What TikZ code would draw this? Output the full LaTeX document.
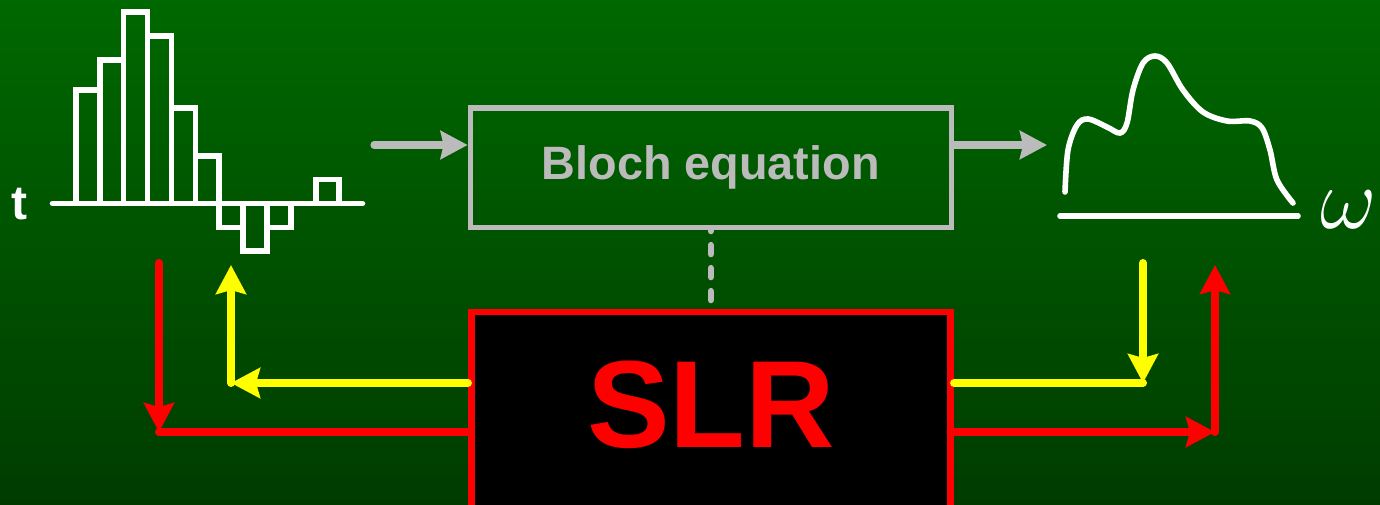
\documentclass[tikz,border=0pt]{standalone}
\usepackage{fontspec}
\setmainfont{Liberation Sans}
\usetikzlibrary{arrows.meta}
\definecolor{bgtop}{RGB}{0,104,0}
\definecolor{bgbot}{RGB}{0,60,0}
\definecolor{wire}{RGB}{187,187,187}
\definecolor{sigred}{RGB}{255,0,0}
\definecolor{sigyel}{RGB}{255,255,0}
\begin{document}
\begin{tikzpicture}[x=0.5pt,y=-0.5pt,
  pulse/.style={draw=white, line width=2.8pt, line join=miter},
  axisline/.style={white, line width=2.8pt, line cap=round},
  flow/.style={wire, line width=3.6pt, line cap=round,
    -{Stealth[length=13.5pt,width=14pt,inset=1.5pt]}},
  loopline/.style={line width=4pt, line cap=round},
  tip/.style={-{Stealth[length=14.5pt,width=15pt,inset=2pt]}},
  blochbox/.style={draw=wire, line width=2.6pt, minimum width=240.5pt,
    minimum height=59.75pt, inner sep=0pt, text=wire,
    font=\bfseries\fontsize{23.4}{24}\selectfont},
  slrbox/.style={draw=sigred, fill=black, line width=3.3pt,
    minimum width=239.75pt, minimum height=109pt, inner sep=0pt},
  slrlabel/.style={text=sigred, inner sep=0pt, anchor=base,
    font=\bfseries\fontsize{62}{62}\selectfont},
  axislabel/.style={text=white, inner sep=0pt, anchor=base,
    font=\bfseries\fontsize{24}{24}\selectfont},
  freqlabel/.style={text=white, inner sep=0pt, scale=1.75, font=\Huge}
]
\useasboundingbox (0,0) rectangle (1380,504);
\clip (0,0) rectangle (1380,504);
\shade[top color=bgtop, bottom color=bgbot] (0,0) rectangle (1380,504);

% ---- RF pulse (time domain) ----
\draw[pulse] (75.8,203.5) -- (75.8,90) -- (99.7,90) -- (99.7,203.5);
\draw[pulse] (99.7,203.5) -- (99.7,60) -- (123.6,60) -- (123.6,203.5);
\draw[pulse] (123.6,203.5) -- (123.6,11.7) -- (147.5,11.7) -- (147.5,203.5);
\draw[pulse] (147.5,203.5) -- (147.5,36) -- (171.4,36) -- (171.4,203.5);
\draw[pulse] (171.4,203.5) -- (171.4,108) -- (195.3,108) -- (195.3,203.5);
\draw[pulse] (195.3,203.5) -- (195.3,156) -- (219.2,156) -- (219.2,203.5);
\draw[pulse] (219.2,203.5) -- (219.2,227.5) -- (243.1,227.5) -- (243.1,203.5);
\draw[pulse] (243.1,203.5) -- (243.1,251) -- (267.0,251) -- (267.0,203.5);
\draw[pulse] (267.0,203.5) -- (267.0,227.5) -- (290.9,227.5) -- (290.9,203.5);
\draw[pulse] (315.8,203.5) -- (315.8,179.5) -- (339.2,179.5) -- (339.2,203.5);
\draw[axisline] (52.5,203.5) -- (362.5,203.5);
\node[axislabel] (tlab) at (19.5,219) {t};

% ---- Frequency response ----
\draw[axisline] (1060,216) -- (1298,216);
\draw[axisline] plot[smooth, tension=0.55] coordinates {
  (1065,192) (1068,150) (1077,125) (1088,119) (1107,127) (1120,133)
  (1127,123) (1133,90) (1143,63) (1155,56) (1167,63) (1183,90)
  (1203,112) (1227,121) (1250,121) (1262,128) (1270,150) (1277,180)
  (1293,203)};
\node[freqlabel] (wlab) at (1349,210) {$\omega$};

% ---- Blocks ----
\node[blochbox] (bloch) at (710.75,167.75) {Bloch equation};
\node[slrbox] (slr) at (711,421) {};
\node[slrlabel] (slrtext) at (711,447) {SLR};

% ---- Forward path ----
\coordinate (in) at (374,145);
\coordinate (out) at (1047,145);
\draw[flow] (in) -- (in -| bloch.west);
\draw[flow] (out -| bloch.east) -- (out);
\draw[wire, line width=3.2pt, line cap=round, dash pattern=on 4.5pt off 7pt, dash phase=4pt]
  (bloch.south) -- (bloch.south |- slr.north);

% ---- Left side loops ----
\coordinate (yl) at (231,383);
\coordinate (ylt) at (231,265);
\coordinate (rlt) at (159,263);
\coordinate (rl) at (159,432);
\draw[loopline, sigyel, tip] (yl -| slr.west) -- (yl);
\draw[loopline, sigyel, tip] (yl) -- (ylt);
\draw[loopline, sigred, tip] (rlt) -- (rl);
\draw[loopline, sigred] (rl) -- (rl -| slr.west);

% ---- Right side loops ----
\coordinate (yrt) at (1143,263);
\coordinate (yr) at (1143,383);
\coordinate (rr) at (1215,432);
\coordinate (rrt) at (1215,265);
\draw[loopline, sigyel, tip] (yrt) -- (yr);
\draw[loopline, sigyel] (yr -| slr.east) -- (yr);
\draw[loopline, sigred, tip] (rr -| slr.east) -- (rr);
\draw[loopline, sigred, tip] (rr) -- (rrt);
\end{tikzpicture}
\end{document}
